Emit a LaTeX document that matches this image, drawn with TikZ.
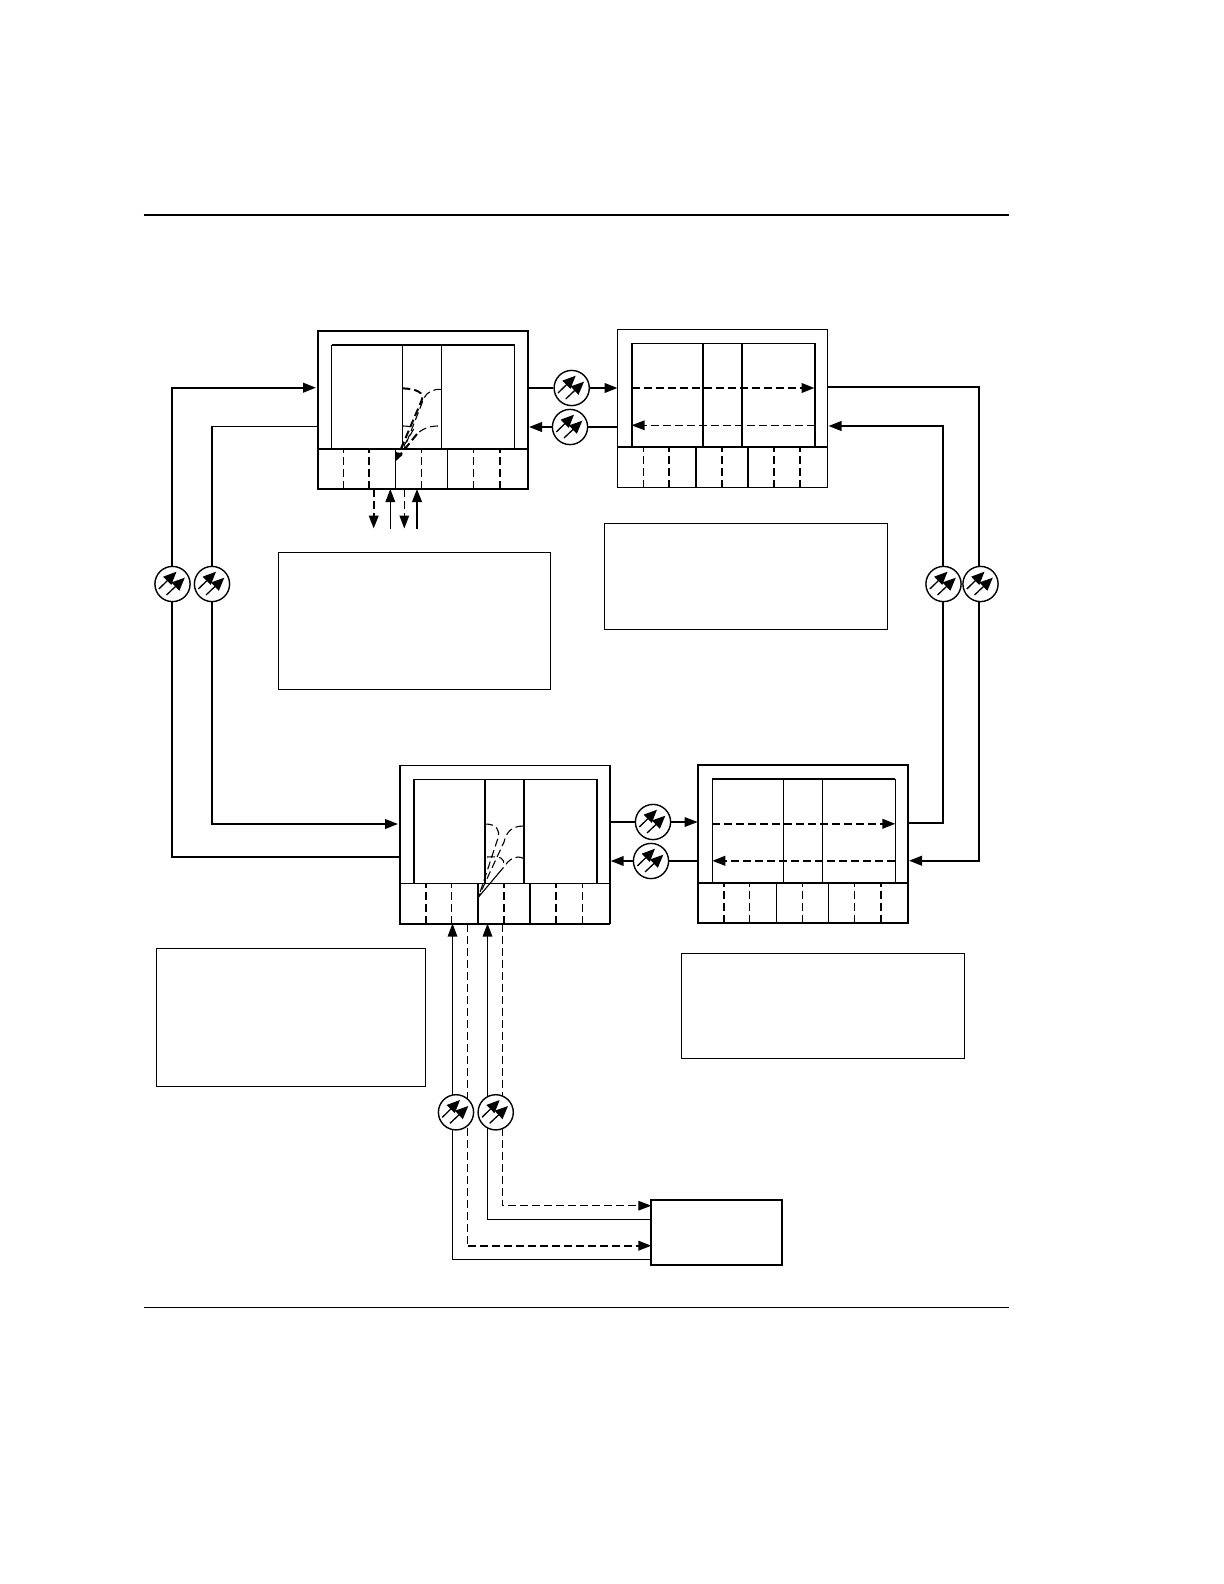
\documentclass[tikz,border=0pt]{standalone}
\usepackage{amsmath}
\usetikzlibrary{arrows.meta, positioning, backgrounds}

\begin{document}
\begin{tikzpicture}[x=0.5pt,y=-0.5pt]
    \tikzstyle{fine} = [line width=0.55pt]
    \tikzstyle{heavy} = [line width=1pt]
    \tikzstyle{dashfine} = [fine, dash pattern=on 4pt off 2pt]
    \tikzstyle{dashheavy} = [heavy, dash pattern=on 4pt off 2pt]
    \tikzstyle{arrow} = [-{Triangle[length=6.5pt,width=4.8pt]}]
    \tikzstyle{shelf} = [rectangle, draw=black, anchor=north west, inner sep=0pt, outer sep=0pt, minimum width=105pt, minimum height=79pt]
    \tikzstyle{slot} = [rectangle, inner sep=0pt, outer sep=0pt, minimum width=91.5pt, minimum height=52pt]
    \tikzstyle{note} = [rectangle, draw=black, fine, anchor=north west, inner sep=0pt, outer sep=0pt]
    \tikzstyle{amp} = [circle, draw=black, fill=white, line width=0.7pt, inner sep=0pt, minimum size=17.6pt, path picture={
        \draw [line width=0.65pt, -{Triangle[length=6.5pt,width=5.6pt]}, shift={(path picture bounding box.center)}] (-13.7,5) -- (4,-12.3);
        \draw [line width=0.65pt, -{Triangle[length=6.5pt,width=5.6pt]}, shift={(path picture bounding box.center)}] (-6,11) -- (12.3,-6.3);
    }]

    \useasboundingbox (0,0) rectangle (1224,1584);
    \draw [heavy] (143.5,214.5) -- (1009,214.5);
    \draw [fine] (143.5,1307.5) -- (1009,1307.5);

    \node (boxA) [shelf, heavy] at (317.5,331) {};
    \node (boxB) [shelf, fine] at (617.5,329.5) {};
    \node (boxC) [shelf, fine] at (400,765.5) {};
    \node (boxD) [shelf, heavy] at (698.3,765) {};
    \node (boxE) [shelf, heavy, minimum width=65.5pt, minimum height=32.4pt] at (651.3,1200) {};
    \node (innerA) [slot, below right=6.9pt and 7pt of boxA.north west] {};
    \node (innerB) [slot, below right=6.9pt and 7pt of boxB.north west] {};
    \node (innerC) [slot, below right=6.9pt and 7pt of boxC.north west] {};
    \node (innerD) [slot, below right=6.9pt and 7pt of boxD.north west] {};

    \node (noteA) [note, minimum width=135.9pt, minimum height=68.7pt] at (278.7,552.5) {};
    \node (noteB) [note, minimum width=141.4pt, minimum height=53pt] at (604.5,523.5) {};
    \node (noteC) [note, minimum width=134.4pt, minimum height=69.2pt] at (156.5,948.3) {};
    \node (noteD) [note, minimum width=141.4pt, minimum height=52.6pt] at (681.7,953.3) {};

    \node (ampAB) [amp] at (571.7,388) {};
    \node (ampBA) [amp] at (570,427) {};
    \node (ampCD) [amp] at (653,822) {};
    \node (ampDC) [amp] at (651,861) {};
    \node (ampW1) [amp] at (172.5,584) {};
    \node (ampW2) [amp] at (212,584) {};
    \node (ampE1) [amp] at (943.5,584) {};
    \node (ampE2) [amp] at (980.5,584) {};
    \node (ampS1) [amp] at (456,1112.3) {};
    \node (ampS2) [amp] at (495.7,1112.3) {};

    % shelf A
    \draw [heavy] (boxA.west |- innerA.south) -- (boxA.east |- innerA.south);
    \draw [fine] (innerA.south west) -- (innerA.north west);
    \draw [heavy] (innerA.north west) -- (innerA.north east);
    \draw [fine] (innerA.north east) -- (innerA.south east);
    \foreach \x in {71,110} \draw [fine] (innerA.north west) ++(\x,0) -- ++(0,104);
    \foreach \x in {78,130} \draw [fine] (boxA.south west) ++(\x,0) -- ++(0,-40);
    \foreach \x in {26,51.5,104,156} \draw [dashfine] (boxA.south west) ++(\x,0) -- ++(0,-40);
    \draw [dashheavy] (boxA.south west) ++(182.5,0) -- ++(0,-40);

    % shelf B
    \draw [heavy] (boxB.west |- innerB.south) -- (boxB.east |- innerB.south);
    \draw [fine] (innerB.north west) -- (innerB.north east);
    \foreach \x in {0,71,110,183} \draw [heavy] (innerB.north west) ++(\x,0) -- ++(0,104);
    \foreach \x in {78,130} \draw [heavy] (boxB.south west) ++(\x,0) -- ++(0,-40);
    \foreach \x in {26,182.5} \draw [dashfine] (boxB.south west) ++(\x,0) -- ++(0,-40);
    \foreach \x in {51.5,104,156} \draw [dashheavy] (boxB.south west) ++(\x,0) -- ++(0,-40);
    \draw [arrow, dashheavy] (innerB.north west) ++(0,44.7) -- ++(183,0);
    \draw [arrow, dashfine] (innerB.north east) ++(0,82) -- ++(-183,0);

    % shelf C
    \draw [fine] (boxC.west |- innerC.south) -- (boxC.east |- innerC.south);
    \draw [heavy] (boxC.north west) -- (boxC.south west) -- (boxC.south east);
    \draw [fine] (innerC.north west) -- (innerC.north east);
    \foreach \x in {0,71,110,183} \draw [heavy] (innerC.north west) ++(\x,0) -- ++(0,104);
    \foreach \x in {78,130} \draw [fine] (boxC.south west) ++(\x,0) -- ++(0,-40);
    \foreach \x in {51.5,182.5} \draw [dashfine] (boxC.south west) ++(\x,0) -- ++(0,-40);
    \foreach \x in {26,104,156} \draw [dashheavy] (boxC.south west) ++(\x,0) -- ++(0,-40);

    % shelf D
    \draw [heavy] (boxD.west |- innerD.south) -- (boxD.east |- innerD.south);
    \draw [heavy] (innerD.north west) -- (innerD.north east);
    \foreach \x in {0,71,110,183} \draw [fine] (innerD.north west) ++(\x,0) -- ++(0,104);
    \foreach \x in {78,130} \draw [fine] (boxD.south west) ++(\x,0) -- ++(0,-40);
    \foreach \x in {51.5,104,156} \draw [dashfine] (boxD.south west) ++(\x,0) -- ++(0,-40);
    \foreach \x in {26,182.5} \draw [dashheavy] (boxD.south west) ++(\x,0) -- ++(0,-40);
    \draw [arrow, dashheavy] (innerD.north west) ++(0,45) -- ++(183,0);
    \draw [arrow, dashheavy] (innerD.north east) ++(0,82) -- ++(-183,0);

    % drops inside A and C
    \coordinate (dropA) at (395.5,461.5);
    \coordinate (dropC) at (478.5,897);
    \draw [-{Triangle[length=4.5pt,width=3.6pt]}, dashheavy] (402.3,388.3) .. controls (416,389) and (426,392) .. (421,402) -- (dropA);
    \draw [dashfine] (441.3,389.3) .. controls (433,389) and (427,392) .. (424,398) -- (404,449);
    \draw [dashfine] (402.3,426) .. controls (412,426) and (416,428) .. (412,432) -- (402,449);
    \draw [dashfine] (438,426) .. controls (428,426) and (421,430) .. (417,434);
    \draw [dashheavy] (417,434) -- (400,455);
    \draw [dashfine] (485,824) .. controls (497,824) and (500,830) .. (498,838) -- (dropC);
    \draw [dashfine] (523.3,826) .. controls (510,826) and (506,834) .. (504,842) -- (dropC);
    \draw [dashfine] (487,857) .. controls (500,856) and (506,858) .. (503,866);
    \draw [dashfine] (523.3,858.3) .. controls (516,855) and (510,858) .. (503,868);
    \draw [fine] (503,868) -- (dropC);

    % add and drop under A
    \coordinate (tribA) at (373.7,528.5);
    \coordinate (tribB) at (390.3,528.5);
    \coordinate (tribC) at (404.3,528.5);
    \coordinate (tribD) at (417,528.5);
    \draw [arrow, dashheavy] (tribA |- boxA.south) -- (tribA);
    \draw [arrow, fine] (tribB) -- (tribB |- boxA.south);
    \draw [arrow, dashfine] (tribC |- boxA.south) -- (tribC);
    \draw [arrow, heavy] (tribD) -- (tribD |- boxA.south);

    \begin{pgfonlayer}{background}
        \coordinate (inA) at (316,387.7);
        \coordinate (outA) at (317.5,426.3);
        \coordinate (inC) at (398,824);
        \coordinate (outC) at (400,856.7);
        \coordinate (outB) at (827.7,386.7);
        \coordinate (inB) at (828.5,426);
        \coordinate (outD) at (908.3,822.7);
        \coordinate (inD) at (909,860.7);
        \coordinate (westA) at (172,584);
        \coordinate (westB) at (212,584);
        \coordinate (eastA) at (943,584);
        \coordinate (eastB) at (979,584);
        \coordinate (portA) at (452.5,923.5);
        \coordinate (portB) at (467.7,923.5);
        \coordinate (portC) at (487.5,923.5);
        \coordinate (portD) at (502.3,923.5);
        \coordinate (inE1) at (651.3,1205.7);
        \coordinate (inE2) at (651.3,1219.7);
        \coordinate (inE3) at (651.3,1245.7);
        \coordinate (inE4) at (651.3,1259.3);

        \draw [arrow, heavy] (outC) -| (westA) |- (inA);
        \draw [fine] (outA) -- (outA -| westB);
        \draw [arrow, heavy] (outA -| westB) |- (inC);
        \draw [heavy] (outB) -| (eastB);
        \draw [arrow, heavy] (eastB) |- (inD);
        \draw [heavy] (outD) -| (eastA);
        \draw [arrow, heavy] (eastA) |- (inB);

        \draw [heavy] (boxA.east |- ampAB) -- (ampAB);
        \draw [arrow, heavy] (ampAB) -- (boxB.west |- ampAB);
        \draw [fine] (boxB.west |- ampBA) -- (ampBA);
        \draw [arrow, heavy] (ampBA) -- (529,427);
        \draw [fine] (boxC.east |- ampCD) -- (ampCD);
        \draw [arrow, fine] (ampCD) -- (697.7,822);
        \draw [heavy] (696.7,861) -- (ampDC);
        \draw [arrow, heavy] (ampDC) -- (610.7,861);

        \draw [arrow, fine] (inE4) -| (portA);
        \draw [arrow, fine] (inE2) -| (portC);
        \draw [dashfine] (portB) -- (portB |- inE3);
        \draw [arrow, dashheavy] (portB |- inE3) -- (inE3);
        \draw [arrow, dashfine] (portD) |- (inE1);
    \end{pgfonlayer}
\end{tikzpicture}
\end{document}
